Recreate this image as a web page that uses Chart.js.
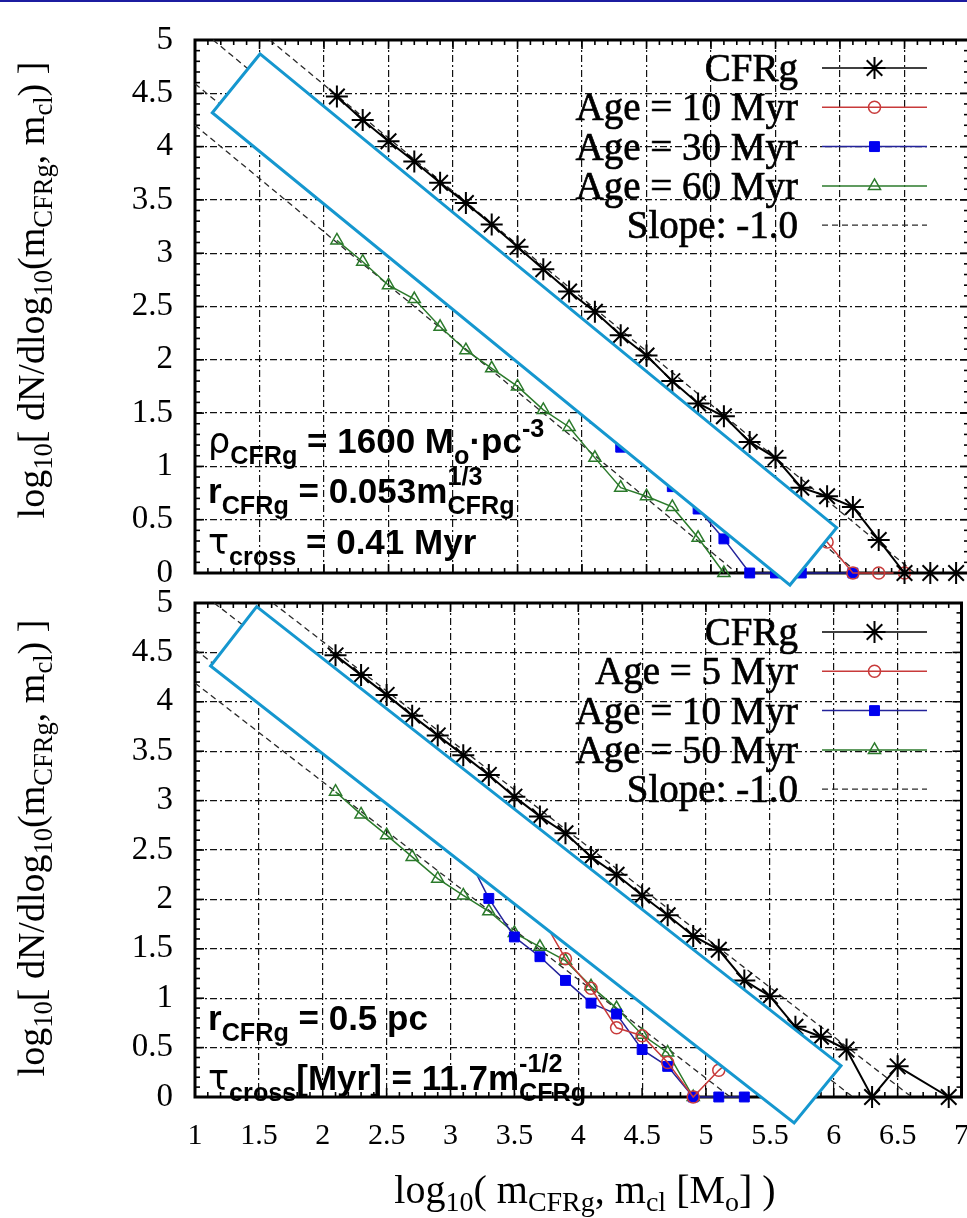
<!DOCTYPE html>
<html>
<head>
<meta charset="utf-8">
<script src="https://cdn.jsdelivr.net/npm/chart.js@4.4.1/dist/chart.umd.min.js"></script>
<style>
  html, body { margin: 0; padding: 0; background: #fff; width: 967px; height: 1218px; overflow: hidden; position: relative; }
  canvas { position: absolute; left: 0; }
  #top-chart { top: -10px; }
  #bottom-chart { top: 560px; }
  .rule { position: absolute; left: 0; top: 0; width: 967px; height: 2px; background: #1c1ca0; }
  .ann { position: absolute; left: 208px; font: bold 35px "Liberation Sans", Arial, sans-serif; line-height: 1; white-space: nowrap; color: #000; }
  .ann .g { font-weight: normal; font-family: "DejaVu Sans", sans-serif; }
  .sb { position: relative; top: 0.45em; font-size: 0.72em; }
  .sp { position: relative; top: -0.62em; font-size: 0.72em; }
  .stack { display: inline-block; position: relative; width: 2.75em; height: 0; font-size: 0.72em; }
  .stack .hi, .stack .lo { position: absolute; left: 0; line-height: 1; }
  .stack .hi { top: -1.55em; }
  .stack .lo { top: -0.4em; }
  .ytitle, .xtitle { position: absolute; line-height: 1; white-space: nowrap; color: #000; font-family: "Liberation Serif", serif; }
  .ytitle { font-size: 38px; transform: translate(-50%, -50%) rotate(-90deg); }
  .xtitle { font-size: 40px; transform: translate(-50%, -50%); }
  .s { position: relative; top: 0.3em; font-size: 0.7em; }
</style>
</head>
<body>
<div class="rule"></div>
<canvas id="top-chart" width="990" height="630"></canvas>
<canvas id="bottom-chart" width="990" height="658"></canvas>

<div class="ytitle" style="left:31px;top:290px">log<span class="s">10</span>[ dN/dlog<span class="s">10</span>(m<span class="s">CFRg</span>, m<span class="s">cl</span>) ]</div>
<div class="ytitle" style="left:31px;top:848px">log<span class="s">10</span>[ dN/dlog<span class="s">10</span>(m<span class="s">CFRg</span>, m<span class="s">cl</span>) ]</div>
<div class="xtitle" style="left:585px;top:1190px">log<span class="s">10</span>( m<span class="s">CFRg</span>, m<span class="s">cl</span> [M<span class="s">o</span>] )</div>

<div class="ann" style="top:423px"><span class="g">ρ</span><span class="sb">CFRg</span> = 1600 M<span class="sb">o</span>·pc<span class="sp">-3</span></div>
<div class="ann" style="top:473px">r<span class="sb">CFRg</span> = 0.053m<span class="stack"><span class="hi">1/3</span><span class="lo">CFRg</span></span></div>
<div class="ann" style="top:524px"><span class="g">τ</span><span class="sb">cross</span> = 0.41 Myr</div>
<div class="ann" style="top:1000px">r<span class="sb">CFRg</span> = 0.5 pc</div>
<div class="ann" style="top:1060px"><span class="g">τ</span><span class="sb">cross</span>[Myr] = 11.7m<span class="stack"><span class="hi">-1/2</span><span class="lo">CFRg</span></span></div>

<script>
// log10 mass bins (x) shared by every series
const massBins = [2.1, 2.3, 2.5, 2.7, 2.9, 3.1, 3.3, 3.5, 3.7, 3.9, 4.1, 4.3, 4.5, 4.7, 4.9, 5.1, 5.3, 5.5, 5.7, 5.9, 6.1, 6.3, 6.5, 6.7, 6.9];
const xTickValues = [1, 1.5, 2, 2.5, 3, 3.5, 4, 4.5, 5, 5.5, 6, 6.5, 7];
const yTickValues = [0, 0.5, 1, 1.5, 2, 2.5, 3, 3.5, 4, 4.5, 5];

// top panel (rho = 1600)
const topLegendLabels = ['CFRg', 'Age = 10 Myr', 'Age = 30 Myr', 'Age = 60 Myr', 'Slope: -1.0'];
const topCfrg = [4.47, 4.25, 4.05, 3.86, 3.66, 3.47, 3.27, 3.06, 2.85, 2.64, 2.45, 2.23, 2.04, 1.80, 1.59, 1.47, 1.23, 1.08, 0.80, 0.72, 0.62, 0.31, 0, 0, 0];
const topAge10 = [4.02, 3.83, 3.62, 3.44, 3.22, 3.04, 2.83, 2.65, 2.43, 2.24, 2.03, 1.85, 1.63, 1.44, 1.22, 1.05, 0.85, 0.70, 0.48, 0.29, 0, 0, 0, null, null];
const topAge30 = [3.50, 3.29, 3.10, 2.88, 2.70, 2.49, 2.30, 2.08, 1.90, 1.69, 1.45, 1.18, 1.05, 0.81, 0.60, 0.32, 0, 0, 0, null, 0, null, null, null, null];
const topAge60 = [3.12, 2.92, 2.70, 2.57, 2.31, 2.09, 1.92, 1.75, 1.53, 1.37, 1.08, 0.80, 0.72, 0.62, 0.33, 0, null, null, null, null, null, null, null, null, null];
const topSlopeCfrg = [[1.58, 5], [6.58, 0]];
const topSlopeAge10 = [[1.14, 5], [6.14, 0]];
const topSlopeAge30 = [[1, 4.59], [5.59, 0]];
const topSlopeAge60 = [[1, 4.2], [5.2, 0]];
const topBoxX = [1.504, 5.974, 5.612, 1.134];
const topBoxY = [4.869, 0.425, -0.113, 4.318];

// bottom panel (r = 0.5 pc)
const bottomLegendLabels = ['CFRg', 'Age = 5 Myr', 'Age = 10 Myr', 'Age = 50 Myr', 'Slope: -1.0'];
const bottomCfrg = [4.47, 4.27, 4.07, 3.86, 3.66, 3.46, 3.26, 3.04, 2.84, 2.67, 2.43, 2.25, 2.04, 1.84, 1.63, 1.49, 1.18, 1.02, 0.71, 0.61, 0.48, 0, 0.31, null, 0];
const bottomAge5 = [4.05, 3.85, 3.64, 3.45, 3.24, 3.03, 2.82, 2.40, 1.85, 1.40, 1.10, 0.70, 0.62, 0.35, 0, 0.27, 0.50, 0, null, null, null, null, null, null, null];
const bottomAge10 = [3.55, 3.35, 3.15, 2.95, 2.75, 2.52, 2.01, 1.62, 1.42, 1.18, 0.95, 0.84, 0.48, 0.31, 0, 0, 0, null, null, null, null, null, null, null, null];
const bottomAge50 = [3.09, 2.86, 2.65, 2.43, 2.21, 2.04, 1.88, 1.66, 1.52, 1.38, 1.12, 0.90, 0.63, 0.45, 0, null, null, null, null, null, null, null, null, null, null];
const bottomSlopeCfrg = [[1.61, 5], [6.61, 0]];
const bottomSlopeAge5 = [[1.15, 5], [6.15, 0]];
const bottomSlopeAge10 = [[1, 4.53], [5.53, 0]];
const bottomSlopeAge50 = [[1, 4.19], [5.19, 0]];
const bottomBoxX = [1.483, 6.057, 5.690, 1.122];
const bottomBoxY = [4.963, 0.317, -0.263, 4.362];

const RED = '#c83a3a';
const BLUE_LINE = '#23239a';
const BLUE = '#0000f0';
const GREEN = '#2b7a2b';
const BOX_EDGE = '#1597cf';

function toPoints(values) {
  return massBins
    .map((x, i) => ({ x, y: values[i] }))
    .filter((p) => p.y != null);
}

function slopeDataset(points) {
  return {
    data: points.map(([x, y]) => ({ x, y })),
    borderColor: '#2a2a2a',
    borderWidth: 1.3,
    borderDash: [6, 4],
    pointRadius: 0,
    clip: false
  };
}

function buildDatasets(cfrg, red, blue, green, slopes) {
  return [
    {
      data: toPoints(cfrg), borderColor: '#000', borderWidth: 2,
      pointStyle: 'star', pointRadius: 11, pointBorderWidth: 2, pointBorderColor: '#000',
      pointBackgroundColor: 'rgba(0,0,0,0)', clip: false
    },
    {
      data: toPoints(red), borderColor: RED, borderWidth: 1.5,
      pointStyle: 'circle', pointRadius: 6, pointBorderWidth: 1.5, pointBorderColor: RED,
      pointBackgroundColor: 'rgba(0,0,0,0)', clip: false
    },
    {
      data: toPoints(blue), borderColor: BLUE_LINE, borderWidth: 1.5,
      pointStyle: 'rect', pointRadius: 7, pointBorderWidth: 1, pointBorderColor: BLUE,
      pointBackgroundColor: BLUE, clip: false
    },
    {
      data: toPoints(green), borderColor: GREEN, borderWidth: 1.5,
      pointStyle: 'triangle', pointRadius: 7, pointBorderWidth: 1.5, pointBorderColor: GREEN,
      pointBackgroundColor: 'rgba(0,0,0,0)', clip: false
    },
    ...slopes.map(slopeDataset)
  ];
}

// box with inward major/minor ticks on all four sides
const framePlugin = {
  id: 'frame',
  beforeDatasetsDraw(chart) {
    const { ctx, chartArea: a, scales: { x, y } } = chart;
    const seg = (x1, y1, x2, y2) => { ctx.beginPath(); ctx.moveTo(x1, y1); ctx.lineTo(x2, y2); ctx.stroke(); };
    ctx.save();
    ctx.strokeStyle = '#000';
    ctx.lineWidth = 1.6;
    for (let i = 10; i <= 70; i++) {
      const px = x.getPixelForValue(i / 10);
      const len = i % 5 === 0 ? 9 : 5;
      seg(px, a.bottom, px, a.bottom - len);
      seg(px, a.top, px, a.top + len);
    }
    for (let i = 0; i <= 50; i++) {
      const py = y.getPixelForValue(i / 10);
      const len = i % 5 === 0 ? 9 : 5;
      seg(a.left, py, a.left + len, py);
      seg(a.right, py, a.right - len, py);
    }
    ctx.lineWidth = 3;
    ctx.strokeRect(a.left, a.top, a.right - a.left, a.bottom - a.top);
    ctx.restore();
  }
};

// gnuplot-style key: label right-aligned, sample to the right
const keyPlugin = {
  id: 'key',
  afterDatasetsDraw(chart, args, opts) {
    const { ctx } = chart;
    opts.labels.forEach((label, i) => {
      const ds = chart.data.datasets[i];
      const rowY = opts.top + i * opts.step;
      ctx.save();
      ctx.font = '39px "Liberation Serif", serif';
      ctx.fillStyle = '#000';
      ctx.strokeStyle = '#000';
      ctx.lineWidth = 0.7;
      ctx.textAlign = 'right';
      ctx.textBaseline = 'alphabetic';
      ctx.fillText(label, opts.textRight, rowY + 13);
      ctx.strokeText(label, opts.textRight, rowY + 13);
      ctx.restore();

      ctx.save();
      ctx.strokeStyle = ds.borderColor;
      ctx.lineWidth = Math.min(ds.borderWidth, 1.5);
      ctx.setLineDash(ds.borderDash || []);
      ctx.beginPath();
      ctx.moveTo(opts.lineStart, rowY);
      ctx.lineTo(opts.lineEnd, rowY);
      ctx.stroke();
      ctx.restore();

      if (ds.pointRadius) {
        ctx.save();
        ctx.strokeStyle = ds.pointBorderColor;
        ctx.fillStyle = ds.pointBackgroundColor;
        ctx.lineWidth = ds.pointBorderWidth;
        Chart.helpers.drawPoint(ctx, {
          pointStyle: ds.pointStyle,
          radius: ds.pointRadius,
          borderWidth: ds.pointBorderWidth,
          rotation: 0
        }, (opts.lineStart + opts.lineEnd) / 2, rowY);
        ctx.restore();
      }
    });
  }
};

// white masking band with a blue edge, placed in data coordinates
const maskPlugin = {
  id: 'mask',
  afterDraw(chart, args, opts) {
    const { ctx, scales: { x, y } } = chart;
    ctx.save();
    ctx.beginPath();
    opts.xs.forEach((vx, i) => {
      const px = x.getPixelForValue(vx);
      const py = y.getPixelForValue(opts.ys[i]);
      if (i === 0) ctx.moveTo(px, py); else ctx.lineTo(px, py);
    });
    ctx.closePath();
    ctx.fillStyle = '#fff';
    ctx.fill();
    ctx.lineWidth = 3;
    ctx.strokeStyle = BOX_EDGE;
    ctx.lineJoin = 'miter';
    ctx.stroke();
    ctx.restore();
  }
};

function makePanel(canvasId, cfg) {
  return new Chart(document.getElementById(canvasId), {
    type: 'line',
    data: { datasets: cfg.datasets },
    options: {
      responsive: false,
      animation: false,
      events: [],
      layout: { padding: { top: cfg.padTop, right: 21, bottom: 0, left: 0 } },
      elements: { line: { tension: 0 } },
      plugins: {
        legend: { display: false },
        tooltip: { enabled: false },
        key: { labels: cfg.legendLabels, top: cfg.keyTop, step: 39.3, textRight: 798, lineStart: 822, lineEnd: 927 },
        mask: { xs: cfg.boxX, ys: cfg.boxY }
      },
      scales: {
        x: {
          type: 'linear',
          min: 1,
          max: 7,
          afterBuildTicks: (s) => { s.ticks = xTickValues.map((value) => ({ value })); },
          afterFit: (s) => { s.height = cfg.xHeight; },
          border: { display: false, dash: [7, 3, 2, 3] },
          grid: { color: '#111', lineWidth: 1.2, drawTicks: false },
          ticks: {
            display: cfg.showXLabels,
            padding: 21,
            color: '#000',
            maxRotation: 0,
            autoSkip: false,
            font: { family: '"Liberation Serif", serif', size: 30 },
            callback: (v) => String(v)
          }
        },
        y: {
          type: 'linear',
          min: 0,
          max: 5,
          afterBuildTicks: (s) => { s.ticks = yTickValues.map((value) => ({ value })); },
          afterFit: (s) => { s.width = 195; },
          border: { display: false, dash: [7, 3, 2, 3] },
          grid: { color: '#111', lineWidth: 1.2, drawTicks: false },
          ticks: {
            padding: 22,
            color: '#000',
            autoSkip: false,
            font: { family: '"Liberation Serif", serif', size: 33 },
            callback: (v) => String(v)
          }
        }
      }
    },
    plugins: [framePlugin, keyPlugin, maskPlugin]
  });
}

makePanel('top-chart', {
  datasets: buildDatasets(topCfrg, topAge10, topAge30, topAge60,
    [topSlopeCfrg, topSlopeAge10, topSlopeAge30, topSlopeAge60]),
  legendLabels: topLegendLabels,
  keyTop: 78,
  boxX: topBoxX,
  boxY: topBoxY,
  padTop: 50,
  xHeight: 47,
  showXLabels: false
});

makePanel('bottom-chart', {
  datasets: buildDatasets(bottomCfrg, bottomAge5, bottomAge10, bottomAge50,
    [bottomSlopeCfrg, bottomSlopeAge5, bottomSlopeAge10, bottomSlopeAge50]),
  legendLabels: bottomLegendLabels,
  keyTop: 72,
  boxX: bottomBoxX,
  boxY: bottomBoxY,
  padTop: 43,
  xHeight: 121,
  showXLabels: true
});
</script>
</body>
</html>
